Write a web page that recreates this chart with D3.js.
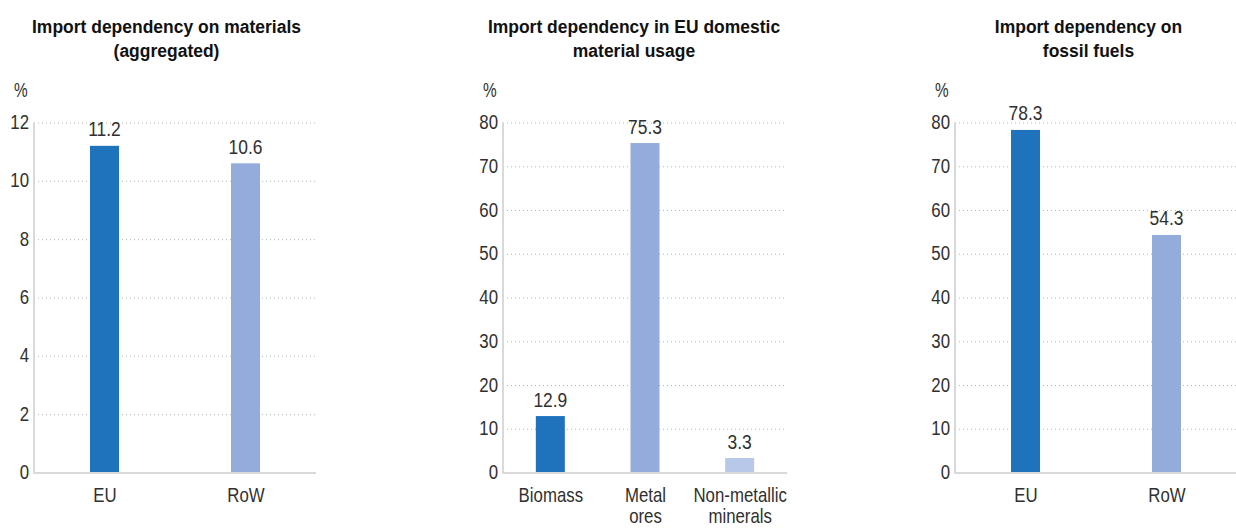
<!DOCTYPE html>
<html>
<head>
<meta charset="utf-8">
<script src="https://cdn.jsdelivr.net/npm/d3@7"></script>
<style>
  html, body { margin: 0; padding: 0; background: #fff; }
  svg { display: block; }
  text { font-family: "Liberation Sans", Arial, sans-serif; }
</style>
</head>
<body>
<svg id="chart" width="1236" height="528"></svg>
<script>
// ---- Data ----
const titles1 = ["Import dependency on materials", "(aggregated)"];
const categories1 = ["EU", "RoW"];
const values1 = [11.2, 10.6];
const ticks1 = [0, 2, 4, 6, 8, 10, 12];

const titles2 = ["Import dependency in EU domestic", "material usage"];
const categories2 = ["Biomass", "Metal\nores", "Non-metallic\nminerals"];
const values2 = [12.9, 75.3, 3.3];
const ticks2 = [0, 10, 20, 30, 40, 50, 60, 70, 80];

const titles3 = ["Import dependency on", "fossil fuels"];
const categories3 = ["EU", "RoW"];
const values3 = [78.3, 54.3];
const ticks3 = [0, 10, 20, 30, 40, 50, 60, 70, 80];

const unitLabel = "%";

// ---- Styles ----
const colors1 = ["#1f73bd", "#93acdb"];
const colors2 = ["#1f73bd", "#93acdb", "#b7c8e9"];
const colors3 = ["#1f73bd", "#93acdb"];
const SX = 0.82;          // horizontal condensing of regular text
const FS = 20.5;          // regular font size
const TITLE_SX = 0.92;    // condensing of bold titles
const TXT = "#303030";

const svg = d3.select("#chart");

// Adds (possibly multi-line) condensed text anchored at (x, y)
function addText(parent, x, y, lines, opts) {
  const t = parent.append("text")
    .attr("transform", `translate(${x},${y}) scale(${opts.sx},1)`)
    .attr("text-anchor", opts.anchor || "middle")
    .style("font-size", opts.size + "px")
    .style("font-weight", opts.weight || "normal")
    .attr("fill", opts.fill || TXT);
  t.selectAll("tspan").data(lines).join("tspan")
    .attr("x", 0).attr("dy", (d, i) => i === 0 ? 0 : opts.lh)
    .text(d => d);
  return t;
}

function drawPanel(opts) {
  const { titles, categories, values, ticks, colors, left, right, titleX } = opts;
  const top = 122.5, bottom = 472.5, barW = 29;
  const g = svg.append("g");

  const y = d3.scaleLinear().domain([ticks[0], ticks[ticks.length - 1]]).range([bottom, top]);
  const x = d3.scalePoint().domain(categories).range([left, right]).padding(0.5);

  // Title
  addText(g, titleX, 33, titles, { sx: TITLE_SX, size: 19, weight: "bold", fill: "#111", lh: 24 });

  // Unit
  addText(g, left - 20, 97, [unitLabel], { sx: 0.75, size: FS, anchor: "start" });

  // Gridlines
  const grid = d3.axisLeft(y).tickValues(ticks.slice(1)).tickSize(-(right - left)).tickFormat("");
  const gg = g.append("g").attr("transform", `translate(${left},0)`).call(grid);
  gg.select(".domain").remove();
  gg.selectAll(".tick line").attr("stroke", "#b5b5b5").attr("stroke-dasharray", "1,3").attr("stroke-width", 1);

  // Y axis labels
  const ya = d3.axisLeft(y).tickValues(ticks).tickSize(0).tickPadding(5);
  const yg = g.append("g").attr("transform", `translate(${left},0)`).call(ya);
  yg.select(".domain").remove();
  yg.selectAll(".tick text").each(function () {
    const s = d3.select(this);
    const tx = +s.attr("x");
    s.attr("x", 0).attr("transform", `translate(${tx},0) scale(${SX},1)`)
      .style("font-size", FS + "px").style("font-family", null)
      .attr("fill", TXT).attr("dy", "0.3em");
  });

  // Bars
  g.append("g").selectAll("rect").data(values).join("rect")
    .attr("x", (d, i) => x(categories[i]) - barW / 2)
    .attr("width", barW)
    .attr("y", d => y(d))
    .attr("height", d => y(0) - y(d))
    .attr("fill", (d, i) => colors[i]);

  // Value labels
  const vl = g.append("g");
  values.forEach((v, i) => {
    addText(vl, x(categories[i]), y(v) - 9.5, [v.toFixed(1)], { sx: 0.85, size: FS });
  });

  // Axis lines
  g.append("line").attr("x1", left).attr("x2", left).attr("y1", top).attr("y2", bottom + 1)
    .attr("stroke", "#d9d9d9").attr("stroke-width", 2);
  g.append("line").attr("x1", left).attr("x2", right).attr("y1", bottom + 0.5).attr("y2", bottom + 0.5)
    .attr("stroke", "#d9d9d9").attr("stroke-width", 2);

  // Category labels
  const xa = d3.axisBottom(x).tickSize(0).tickFormat("");
  const xg = g.append("g").attr("transform", `translate(0,${bottom})`).call(xa);
  xg.select(".domain").remove();
  xg.selectAll(".tick").each(function (d) {
    addText(d3.select(this), 0, 29.5, d.split("\n"), { sx: SX, size: FS, lh: 21.5 });
  });
}

drawPanel({ titles: titles1, categories: categories1, values: values1, ticks: ticks1, colors: colors1, left: 34, right: 316, titleX: 166.5 });
drawPanel({ titles: titles2, categories: categories2, values: values2, ticks: ticks2, colors: colors2, left: 503, right: 787, titleX: 634 });
drawPanel({ titles: titles3, categories: categories3, values: values3, ticks: ticks3, colors: colors3, left: 955, right: 1237, titleX: 1088.5 });
</script>
</body>
</html>
